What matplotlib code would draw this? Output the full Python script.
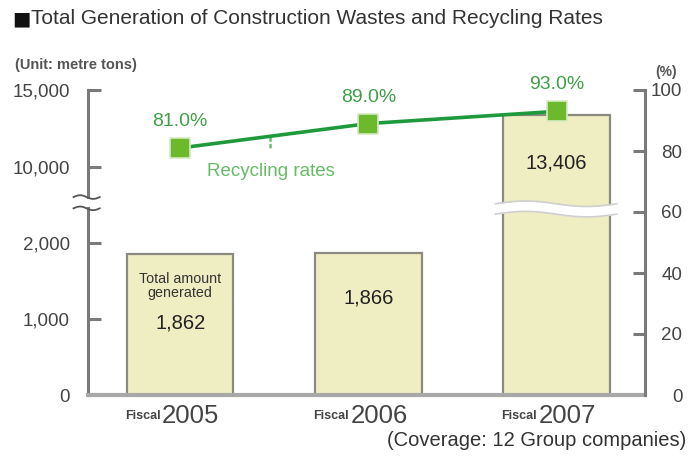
import numpy as np
import matplotlib
matplotlib.use('Agg')
import matplotlib.pyplot as plt

# data
years = ['2005', '2006', '2007']
amounts = [1862, 1866, 13406]          # metre tons
amount_labels = ['1,862', '1,866', '13,406']
rates = [81.0, 89.0, 93.0]             # %
left_ticks = [0, 1000, 2000, 10000, 15000]
left_ticklabels = ['0', '1,000', '2,000', '10,000', '15,000']
right_ticks = [0, 20, 40, 60, 80, 100]

NARROW = ['Liberation Sans Narrow', 'Liberation Sans', 'DejaVu Sans']
REG = ['Liberation Sans', 'DejaVu Sans']

# broken left axis: piecewise linear scale (value -> pixels above baseline)
kv = [0, 2400, 9000, 15000]
kp = [0, 182, 212, 304.5]


def fwd(v):
    v = np.asarray(v, dtype=float)
    out = np.interp(v, kv, kp)
    out = out + np.where(v < 0, v * 0.076, 0) + np.where(v > 15000, (v - 15000) * 0.0154, 0)
    return out


def inv(p):
    p = np.asarray(p, dtype=float)
    out = np.interp(p, kp, kv)
    out = out + np.where(p < 0, p / 0.076, 0) + np.where(p > 304.5, (p - 304.5) / 0.0154, 0)
    return out


fig = plt.figure(figsize=(6.91, 4.63), dpi=100)
ax = fig.add_axes([88 / 691, 68 / 463, 557 / 691, 305 / 463])
ax.set_yscale('function', functions=(fwd, inv))
ax.set_ylim(0, 15000)
ax.set_xlim(-0.49, 2.47)

x = np.arange(len(years))
ax.bar(x, amounts, width=0.565, color='#efedc2', edgecolor='#8a8a80', linewidth=1.6, zorder=2)

# axis styling
for s in ['top', 'right', 'left']:
    ax.spines[s].set_visible(False)
ax.spines['bottom'].set_color('#a8a8a8')
ax.spines['bottom'].set_linewidth(3)
ax.spines['bottom'].set_zorder(3)
ax.set_xticks([])
ax.set_yticks(left_ticks)
ax.set_yticklabels(left_ticklabels, family=NARROW, fontsize=13.5, color='#444444')
ax.tick_params(axis='y', direction='in', length=9, width=2.2, pad=13, color='#7a7a7a')
ax.yaxis.get_major_ticks()[3].tick1line.set_color('#c4c4c4')
ax.yaxis.get_major_ticks()[0].tick1line.set_visible(False)

# left spine with gap for the break
gap_lo, gap_hi = 0.612, 0.649
ax.plot([0, 0], [0, gap_lo], transform=ax.transAxes, color='#7a7a7a', lw=2.2, clip_on=False, zorder=3)
ax.plot([0, 0], [gap_hi, 1], transform=ax.transAxes, color='#7a7a7a', lw=2.2, clip_on=False, zorder=3)
t = np.linspace(0, 1, 40)
for yb in (gap_lo, gap_hi):
    xs = -0.026 + t * 0.047
    ys = yb + 0.006 * np.sin(t * 2 * np.pi)
    ax.plot(xs, ys, transform=ax.transAxes, color='#555555', lw=1.3, clip_on=False, zorder=3)

# wavy break across the 2007 bar
bt = ax.get_xaxis_transform()
wx = np.linspace(1.675, 2.32, 80)
ph = (wx - 1.675) / (2.32 - 1.675) * 2 * np.pi
top_w = 0.627 + 0.009 * np.sin(ph)
bot_w = 0.593 + 0.009 * np.sin(ph)
ax.fill_between(wx, bot_w, top_w, transform=bt, color='white', zorder=4, lw=0)
ax.plot(wx, top_w, transform=bt, color='#cfcfcf', lw=1.2, zorder=5)
ax.plot(wx, bot_w, transform=bt, color='#cfcfcf', lw=1.2, zorder=5)

# bar value labels
ax.annotate('Total amount\ngenerated', xy=(x[0], amounts[0]), xytext=(0, -23), textcoords='offset points',
            ha='center', va='center', family=NARROW, fontsize=10.3, color='#333333', linespacing=1.0, zorder=6)
offs = [-50, -32, -35]
for i in range(len(years)):
    ax.annotate(amount_labels[i], xy=(x[i], amounts[i]), xytext=(0, offs[i]), textcoords='offset points',
                ha='center', va='center', family=NARROW, fontsize=14.5, color='#222222', zorder=6)

# x labels
for i, yr in enumerate(years):
    ax.annotate('Fiscal', xy=(x[i], 0), xycoords=('data', 'axes fraction'), xytext=(-14, -15),
                textcoords='offset points', ha='right', va='center', family=NARROW, fontsize=9,
                fontweight='bold', color='#444444')
    ax.annotate(yr, xy=(x[i], 0), xycoords=('data', 'axes fraction'), xytext=(-13, -15),
                textcoords='offset points', ha='left', va='center', family=NARROW, fontsize=18.5,
                color='#444444')

# recycling rates on right axis
ax2 = ax.twinx()
ax2.set_ylim(0, 100)
ax2.set_xlim(-0.49, 2.47)
for s in ['top', 'left', 'bottom']:
    ax2.spines[s].set_visible(False)
ax2.spines['right'].set_color('#7a7a7a')
ax2.spines['right'].set_linewidth(2.2)
ax2.set_yticks(right_ticks)
ax2.set_yticklabels([str(v) for v in right_ticks], family=NARROW, fontsize=13.5, color='#444444')
ax2.tick_params(axis='y', direction='in', length=9, width=2.2, pad=27, color='#7a7a7a')
for lab in ax2.get_yticklabels():
    lab.set_ha('right')
ax2.yaxis.get_major_ticks()[4].tick1line.set_color('#c4c4c4')
ax2.yaxis.get_major_ticks()[4].tick2line.set_color('#c4c4c4')
ax2.yaxis.get_major_ticks()[0].tick2line.set_visible(False)

ax2.plot(x, rates, color='#1e9a3c', lw=2.6, zorder=5)
ax2.plot(x, rates, ls='none', marker='s', markersize=14, markerfacecolor='#6cb92c',
         markeredgecolor='#d6ecc4', markeredgewidth=1.2, zorder=6)
for i in range(len(years)):
    ax2.annotate('%.1f%%' % rates[i], xy=(x[i], rates[i]), xytext=(0, 19), textcoords='offset points',
                 ha='center', va='center', family=NARROW, fontsize=14, color='#3f9f46', zorder=7)

mx = 0.48
my = np.interp(mx, x, rates)
ax2.annotate('Recycling rates', xy=(mx, my), xytext=(mx, 73.4), ha='center', va='center',
             family=NARROW, fontsize=13.5, color='#66bb66',
             arrowprops=dict(arrowstyle='-', linestyle=':', color='#66bb66', lw=1.8, shrinkA=9, shrinkB=0))

# titles and notes
fig.text(12 / 691, 1 - 19 / 463, '\u25a0', family=['DejaVu Sans'], fontsize=14, color='#111111',
         ha='left', va='center')
fig.text(31 / 691, 1 - 18 / 463, 'Total Generation of Construction Wastes and Recycling Rates',
         family=REG, fontsize=15, color='#333333', ha='left', va='center')
fig.text(15 / 691, 1 - 65 / 463, '(Unit: metre tons)', family=NARROW, fontsize=10.5, fontweight='bold',
         color='#555555', ha='left', va='center')
fig.text(655 / 691, 1 - 72 / 463, '(%)', family=NARROW, fontsize=10, fontweight='bold',
         color='#555555', ha='left', va='center')
fig.text(686 / 691, 1 - 440 / 463, '(Coverage: 12 Group companies)', family=REG, fontsize=14.5,
         color='#333333', ha='right', va='center')

fig.savefig('out.png', dpi=100)
